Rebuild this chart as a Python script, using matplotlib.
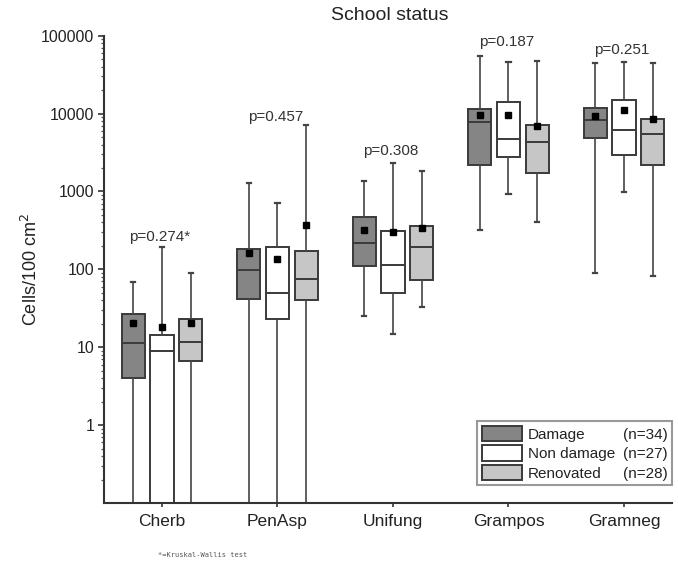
import matplotlib.pyplot as plt
from matplotlib.patches import Rectangle

plt.rcParams['font.family'] = ['Liberation Sans', 'DejaVu Sans']

categories = ["Cherb", "PenAsp", "Unifung", "Grampos", "Gramneg"]
series = ["Damage", "Non damage", "Renovated"]
counts = ["(n=34)", "(n=27)", "(n=28)"]
p_labels = ["p=0.274*", "p=0.457", "p=0.308", "p=0.187", "p=0.251"]
p_heights = [261, 9070, 3320, 83200, 64600]

# values under 0.1 run off the bottom of the axis
damage_whislo = [0.01, 0.01, 25, 319, 89]
damage_q1 = [4.05, 42, 110, 2220, 4930]
damage_med = [11.2, 97, 215, 7760, 8230]
damage_q3 = [26.4, 180, 464, 11380, 11970]
damage_whishi = [68, 1270, 1370, 55700, 44000]
damage_mean = [20.2, 160, 319, 9460, 9260]

nondamage_whislo = [0.01, 0.01, 14.7, 923, 988]
nondamage_q1 = [0.01, 23.2, 49, 2780, 2950]
nondamage_med = [9.0, 49, 114, 4650, 6120]
nondamage_q3 = [14.2, 194, 309, 13900, 14860]
nondamage_whishi = [191, 714, 2290, 45700, 46100]
nondamage_mean = [18.0, 134, 300, 9460, 11060]

renov_whislo = [0.01, 0.01, 33, 404, 82]
renov_q1 = [6.6, 40, 72.7, 1750, 2180]
renov_med = [11.7, 75.5, 191, 4330, 5440]
renov_q3 = [23.2, 173, 362, 7160, 8400]
renov_whishi = [88.6, 7100, 1840, 47500, 44000]
renov_mean = [20.2, 366, 341, 6890, 8550]

data = [
    (damage_whislo, damage_q1, damage_med, damage_q3, damage_whishi, damage_mean),
    (nondamage_whislo, nondamage_q1, nondamage_med, nondamage_q3, nondamage_whishi, nondamage_mean),
    (renov_whislo, renov_q1, renov_med, renov_q3, renov_whishi, renov_mean),
]
fills = ["#858585", "white", "#c6c6c6"]
offsets = [-0.25, 0, 0.25]

fig = plt.figure(figsize=(6.78, 5.65), dpi=100)
ax = fig.add_axes([0.1534, 0.1097, 0.8378, 0.8271])

edge = "#3a3a3a"
handles = []
for k in range(3):
    lo, q1, med, q3, hi, mean = data[k]
    stats = []
    for i in range(len(categories)):
        stats.append(dict(whislo=lo[i], q1=q1[i], med=med[i], q3=q3[i],
                          whishi=hi[i], mean=mean[i], fliers=[]))
    pos = [i + 1 + offsets[k] for i in range(len(categories))]
    bp = ax.bxp(stats, positions=pos, widths=0.2, capwidths=0.035,
                patch_artist=True, showmeans=True, showfliers=False,
                boxprops=dict(facecolor=fills[k], edgecolor=edge, linewidth=1.4),
                medianprops=dict(color=edge, linewidth=1.4),
                whiskerprops=dict(color="#444444", linewidth=1.2),
                capprops=dict(color="#444444", linewidth=1.6),
                meanprops=dict(marker="s", markerfacecolor="black",
                               markeredgecolor="black", markersize=4))
    handles.append(bp["boxes"][0])

ax.set_yscale("log")
ax.set_ylim(0.1, 100000)
ax.set_xlim(0.498, 5.416)
ax.set_yticks([1, 10, 100, 1000, 10000, 100000])
ax.set_yticklabels(["1", "10", "100", "1000", "10000", "100000"])
ax.set_xticks(range(1, 6))
ax.set_xticklabels(categories)

for s in ["top", "right"]:
    ax.spines[s].set_visible(False)
for s in ["left", "bottom"]:
    ax.spines[s].set_linewidth(1.5)
    ax.spines[s].set_color("#333333")

ax.tick_params(axis="y", which="major", length=4, width=1.2, color="#333333",
               labelsize=11.5, labelcolor="#222222", pad=3)
ax.tick_params(axis="y", which="minor", length=2.5, width=0.9, color="#555555")
ax.tick_params(axis="x", length=3, width=1.2, color="#333333",
               labelsize=12.5, labelcolor="#222222", pad=5)

ax.set_ylabel("Cells/100 cm$^2$", fontsize=13, color="#222222")
ax.yaxis.set_label_coords(-0.111, 0.5)

for i in range(len(categories)):
    ax.text(i + 0.98, p_heights[i], p_labels[i], ha="center", va="center",
            fontsize=11, color="#333333")

fig.text(0.575, 0.972, "School status", ha="center", va="center",
         fontsize=14, color="#222222")
fig.text(0.233, 0.018, "*=Kruskal-Wallis test", ha="left", va="center",
         fontsize=5, family="DejaVu Sans Mono", color="#555555")

blank = [Rectangle((0, 0), 1, 1, fill=False, edgecolor="none") for _ in range(3)]
leg = ax.legend(handles + blank, series + counts, ncol=2, loc="lower right",
                bbox_to_anchor=(1.0, 0.038), borderaxespad=0, fontsize=11,
                handlelength=2.6, handleheight=1.15, handletextpad=0.4,
                columnspacing=-2.5, labelspacing=0.25, borderpad=0.3,
                fancybox=False, framealpha=1, edgecolor="#999999")
leg.get_frame().set_linewidth(1.5)
for t in leg.get_texts():
    t.set_color("#222222")

fig.savefig("out.png", dpi=100)
